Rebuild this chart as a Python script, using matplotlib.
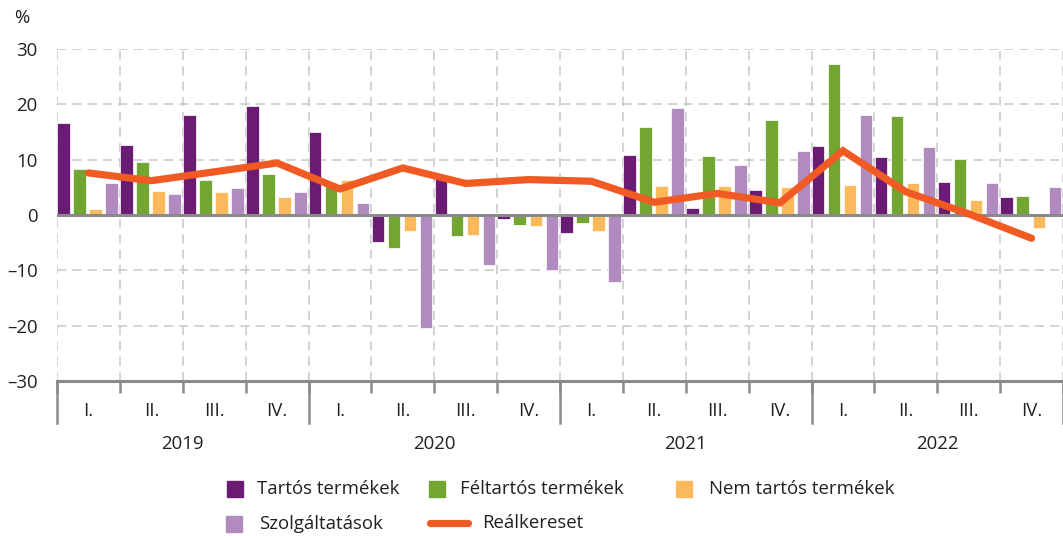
import matplotlib.pyplot as plt
from matplotlib.patches import Rectangle
from matplotlib.lines import Line2D
import matplotlib.transforms as mtransforms
import numpy as np

# data (percent, quarterly 2019 Q1 - 2022 Q4)
years = ["2019", "2020", "2021", "2022"]
quarters = ["I.", "II.", "III.", "IV."]
tartos = [16.7, 12.6, 18.0, 19.7, 15.0, -4.9, 6.8, -0.8,
          -3.2, 10.9, 1.2, 4.5, 12.4, 10.5, 6.0, 3.2]
feltartos = [8.3, 9.5, 6.4, 7.5, 5.5, -6.0, -3.8, -1.8,
             -1.5, 15.9, 10.7, 17.2, 27.2, 17.9, 10.1, 3.4]
nem_tartos = [1.0, 4.3, 4.1, 3.2, 6.4, -2.9, -3.6, -2.0,
              -2.9, 5.2, 5.2, 5.0, 5.5, 5.7, 2.8, -2.3]
szolg = [5.7, 3.8, 4.9, 4.1, 2.2, -20.4, -9.0, -9.9,
         -12.1, 19.4, 9.1, 11.6, 18.0, 12.2, 5.8, 5.0]
realkereset = [7.6, 6.2, 7.8, 9.4, 4.7, 8.5, 5.7, 6.4,
               6.1, 2.3, 3.9, 2.2, 11.6, 4.2, 0.2, -4.2]

series = [
    ("Tartós termékek", tartos, "#6a1b74"),
    ("Féltartós termékek", feltartos, "#72a532"),
    ("Nem tartós termékek", nem_tartos, "#fbb95c"),
    ("Szolgáltatások", szolg, "#b18bc0"),
]
line_color = "#f15a22"
grid_color = "#c8c8c8"
axis_color = "#8a8a8a"
text_color = "#231f20"
fs = 13.4

plt.rcParams["font.family"] = ["Open Sans", "DejaVu Sans"]
plt.rcParams["font.size"] = fs

W, H = 1063, 536
fig = plt.figure(figsize=(W / 100, H / 100), dpi=100)
ax = fig.add_axes([57 / W, 1 - 381 / H, 1 - 57 / W, (381 - 49) / H])

n = len(tartos)
q = np.arange(n)
offsets = [0.105, 0.36, 0.615, 0.87]
for (name, vals, col), off in zip(series, offsets):
    ax.bar(q + off, vals, width=0.2, color=col, edgecolor="white",
           linewidth=0.5, zorder=3)

ax.plot(q + 0.5, realkereset, color=line_color, lw=5.2,
        solid_capstyle="round", solid_joinstyle="miter", zorder=5)

ax.set_xlim(0, (W - 57) / 63.3)
ax.set_ylim(-30, 30)

# dashed grid
for y in [-20, -10, 10, 20, 30]:
    ax.axhline(y, color=grid_color, lw=1.1, ls=(0, (6, 4)), zorder=1)
for x in range(n + 1):
    ax.axvline(x, color=grid_color, lw=1.1, ls=(0, (6, 4)), zorder=1)
ax.axhline(0, color=axis_color, lw=2.2, zorder=4)

for s in ["top", "right", "left"]:
    ax.spines[s].set_visible(False)
ax.spines["bottom"].set_color(axis_color)
ax.spines["bottom"].set_linewidth(2.2)

yt = [-30, -20, -10, 0, 10, 20, 30]
ax.set_yticks(yt)
ax.set_yticklabels([str(v).replace("-", "–") for v in yt], color=text_color)
ax.tick_params(axis="y", length=0, pad=14, labelsize=fs)

# quarter boundary ticks
ax.set_xticks(np.arange(n + 1))
ax.set_xticklabels([])
ax.tick_params(axis="x", length=8.6, width=1.8, color=axis_color)

trans = mtransforms.blended_transform_factory(ax.transData, ax.transAxes)
for i in range(0, n + 1, 4):
    ax.plot([i, i], [0, -42 / 332], transform=trans, color=axis_color,
            lw=1.8, clip_on=False, zorder=4)
for i in range(n):
    ax.text(i + 0.5, -30 / 332, quarters[i % 4], transform=trans,
            ha="center", va="center", fontsize=fs, color=text_color)
for k, yr in enumerate(years):
    ax.text(4 * k + 2, -63 / 332, yr, transform=trans,
            ha="center", va="center", fontsize=fs, color=text_color)

fig.text(22 / W, 1 - 18 / H, "%", ha="center", va="center",
         fontsize=fs, color=text_color)

# legend, laid out like the reference
def legend_patch(x, y, color, label, text_x):
    fig.add_artist(Rectangle((x / W, 1 - (y + 8) / H), 16 / W, 16 / H,
                             transform=fig.transFigure, color=color))
    fig.text(text_x / W, 1 - y / H, label, ha="left", va="center",
             fontsize=fs, color=text_color)


legend_patch(227, 489, series[0][2], series[0][0], 257)
legend_patch(429, 489, series[1][2], series[1][0], 460)
legend_patch(676, 489, series[2][2], series[2][0], 709)
legend_patch(226, 524, series[3][2], series[3][0], 259)
fig.add_artist(Line2D([430 / W, 468 / W], [1 - 523 / H, 1 - 523 / H],
                      transform=fig.transFigure, color=line_color, lw=5.2,
                      solid_capstyle="round"))
fig.text(482 / W, 1 - 523 / H, "Reálkereset", ha="left", va="center",
         fontsize=fs, color=text_color)

fig.savefig("out.png", dpi=100)
